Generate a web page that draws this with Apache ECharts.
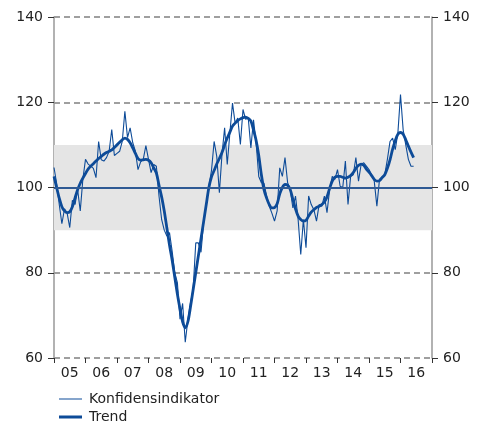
<!DOCTYPE html>
<html>
<head>
<meta charset="utf-8">
<script src="https://cdn.jsdelivr.net/npm/echarts@6/dist/echarts.min.js"></script>
<style>html,body{margin:0;padding:0;background:#fff}#c{width:479px;height:428px}</style>
</head>
<body>
<div id="c"></div>
<script>
// Monthly data from Jan 2005 (index 0) to Jun 2016
var yearLabels = ['05','06','07','08','09','10','11','12','13','14','15','16'];
var yTicks = [60, 80, 100, 120, 140];
var konfidens = [
104.7,101,96,91.5,95,94,90.6,97,96,99.5,94.5,102,
106.6,105.5,105,104.5,102.3,110.8,106.5,106.2,107,108.5,113.6,107.5,
108,108.5,110.8,117.9,111.7,114,110.5,108.5,104.2,106,106.6,109.8,
106.6,103.5,105.4,105,98,92.5,90,88.6,89.4,85.1,80,77.7,
69.1,72.8,63.7,69,73,76.1,87,87,84.8,91.8,96,100.3,
104,110.8,107.3,98.8,107.8,114,105.4,112.8,119.8,115.1,116.3,110.1,
118.3,116,116.3,109.3,115.9,110.5,102.6,101.1,101,98,95.6,94,
92.1,94.5,104.6,102.6,107,101.1,99.5,95.2,98,92.5,84.3,92.5,
85.9,98,96,94.8,92.1,96,95.6,98,94.1,99.5,102.6,101.9,
104.2,100.3,100,106.2,96,102.6,103,107,101.5,105.4,105.8,105,
104.2,103,101.5,95.6,101.9,102.5,103,106.6,110.8,111.6,108.9,112.8,
121.8,113.6,110,106.6,105,105
];
var trend = [
102.6,100,97.5,95.5,94.5,94.1,94.3,95.5,97.5,99.5,101,102.2,
103.3,104.3,105,105.6,106.2,106.8,107.3,107.8,108.2,108.5,108.8,109.4,
110,110.6,111.2,111.6,111.3,110.5,109.3,108,106.8,106.4,106.5,106.6,
106.4,105.8,104.6,103.4,100.5,97.8,94.5,90.5,86.5,83,79,75,
71.5,68.5,67.1,68.5,72,76,80,84,88,92,96,100,
102.5,104,105.5,106.8,108.2,110,111.6,113,114.4,115.1,115.7,116.1,
116.4,116.5,116.2,115.6,113.5,111,107.5,103,99.5,97.5,96,95.2,
95.3,96.2,98.5,100,100.7,100.5,99.5,97.2,95,93.3,92.5,92.1,
92.3,93.3,94.2,94.8,95.3,95.6,96,96.6,97.8,99.8,101.5,102.4,
102.6,102.6,102.4,102.2,102.4,102.8,103.5,104.5,105.2,105.5,105.2,104.3,
103.6,102.8,101.9,101.5,101.6,102.3,103,104.5,106.5,109,111,112.5,
112.9,112.5,111.2,109.7,108.3,107
];
var bandLow = 90, bandHigh = 110, refLine = 100;

function pairs(arr){ return arr.map(function(v,i){ return [i, v]; }); }

var FONT = 'DejaVu Sans';
var BLUE = '#0d4b98';
var legendText = {fontFamily: FONT, fontSize: 14, color: '#222', padding: [0,0,0,2]};
var chart = echarts.init(document.getElementById('c'), null, {renderer:'canvas'});
chart.setOption({
  animation: false,
  textStyle: {fontFamily: FONT},
  grid: {left: 54, right: 47, top: 17, bottom: 70, containLabel: false},
  legend: [{
    orient: 'vertical', left: 59, top: 392, itemWidth: 23, itemHeight: 1, padding: 0,
    icon: 'rect', textStyle: legendText, data: ['Konfidensindikator']
  }, {
    orient: 'vertical', left: 59, top: 410, itemWidth: 23, itemHeight: 3, padding: 0,
    icon: 'rect', textStyle: legendText, data: ['Trend']
  }],
  xAxis: [{
    type: 'value', min: 0, max: 144, interval: 12,
    axisLine: {show: false},
    axisTick: {show: true, length: 5, lineStyle: {color: '#333'}},
    axisLabel: {show: false},
    splitLine: {show: false}
  }, {
    type: 'category', data: yearLabels, position: 'bottom', boundaryGap: true,
    axisLine: {show: false}, axisTick: {show: false},
    axisLabel: {fontFamily: FONT, fontSize: 14, color: '#222', margin: 8},
    splitLine: {show: false}
  }],
  yAxis: [{
    type: 'value', min: 60, max: 140, interval: 20, position: 'left',
    axisLine: {show: true, lineStyle: {color: '#999', width: 1.5}},
    axisTick: {show: true, length: 6, lineStyle: {color: '#333'}},
    axisLabel: {fontFamily: FONT, fontSize: 14, color: '#222', margin: 11},
    splitLine: {show: true, lineStyle: {color: '#808080', type: [6, 4], width: 1.5}}
  }, {
    type: 'value', min: 60, max: 140, interval: 20, position: 'right',
    axisLine: {show: true, lineStyle: {color: '#999', width: 1.5}},
    axisTick: {show: true, length: 6, lineStyle: {color: '#333'}},
    axisLabel: {fontFamily: FONT, fontSize: 14, color: '#222', margin: 11},
    splitLine: {show: false}
  }],
  series: [{
    name: 'Konfidensindikator', type: 'line', xAxisIndex: 0, yAxisIndex: 0,
    data: pairs(konfidens), symbol: 'none', showSymbol: false,
    lineStyle: {color: BLUE, width: 1.1}, itemStyle: {color: BLUE}, z: 3,
    markArea: {silent: true, itemStyle: {color: '#e5e5e5'},
      data: [[{yAxis: bandLow}, {yAxis: bandHigh}]]},
    markLine: {silent: true, symbol: 'none', label: {show: false},
      lineStyle: {color: '#2f5a94', type: 'solid', width: 1.8},
      data: [{yAxis: refLine}]}
  }, {
    name: 'Trend', type: 'line', xAxisIndex: 0, yAxisIndex: 0,
    data: pairs(trend), symbol: 'none', showSymbol: false, smooth: 0.3,
    lineStyle: {color: BLUE, width: 2.8}, itemStyle: {color: BLUE}, z: 4
  }]
});
</script>
</body>
</html>
